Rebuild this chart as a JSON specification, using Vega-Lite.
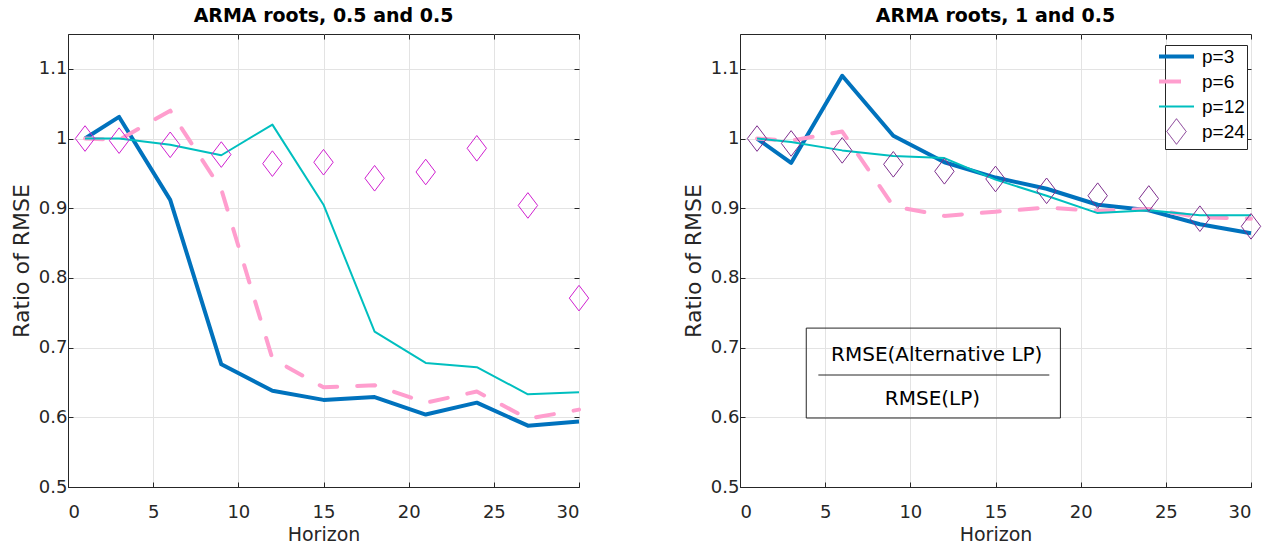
{
  "$schema": "https://vega.github.io/schema/vega-lite/v6.json",
  "background": "white",
  "padding": {"left": 9, "top": 6, "right": 5, "bottom": 2},
  "bounds": "flush",
  "spacing": 161,
  "config": {
    "font": "DejaVu Sans",
    "view": {"stroke": "#262626", "strokeWidth": 1},
    "axis": {
      "gridColor": "#E3E3E3", "gridWidth": 1, "domainColor": "#262626", "tickColor": "#262626",
      "labelColor": "#262626", "titleColor": "#262626", "labelFontSize": 18, "titleFontSize": 19,
      "titleFontWeight": "normal", "labelFont": "DejaVu Sans", "titleFont": "DejaVu Sans",
      "tickSize": -5
    },
    "axisX": {"labelPadding": 21, "titlePadding": 4},
    "axisY": {"labelPadding": 6, "titlePadding": 5, "titleFontSize": 22},
    "title": {"fontSize": 19, "font": "DejaVu Sans", "fontWeight": "bold", "color": "#000000", "offset": 8}
  },
  "datasets": {
    "rmse": [
      {"panel": "A", "series": "p=3", "horizon": 1, "ratio": 1.000},
      {"panel": "A", "series": "p=3", "horizon": 3, "ratio": 1.031},
      {"panel": "A", "series": "p=3", "horizon": 6, "ratio": 0.912},
      {"panel": "A", "series": "p=3", "horizon": 9, "ratio": 0.676},
      {"panel": "A", "series": "p=3", "horizon": 12, "ratio": 0.638},
      {"panel": "A", "series": "p=3", "horizon": 15, "ratio": 0.625},
      {"panel": "A", "series": "p=3", "horizon": 18, "ratio": 0.629},
      {"panel": "A", "series": "p=3", "horizon": 21, "ratio": 0.604},
      {"panel": "A", "series": "p=3", "horizon": 24, "ratio": 0.621},
      {"panel": "A", "series": "p=3", "horizon": 27, "ratio": 0.588},
      {"panel": "A", "series": "p=3", "horizon": 30, "ratio": 0.594},
      {"panel": "A", "series": "p=6", "horizon": 1, "ratio": 1.000},
      {"panel": "A", "series": "p=6", "horizon": 3, "ratio": 0.998},
      {"panel": "A", "series": "p=6", "horizon": 6, "ratio": 1.040},
      {"panel": "A", "series": "p=6", "horizon": 9, "ratio": 0.927},
      {"panel": "A", "series": "p=6", "horizon": 12, "ratio": 0.684},
      {"panel": "A", "series": "p=6", "horizon": 15, "ratio": 0.643},
      {"panel": "A", "series": "p=6", "horizon": 18, "ratio": 0.646},
      {"panel": "A", "series": "p=6", "horizon": 21, "ratio": 0.621},
      {"panel": "A", "series": "p=6", "horizon": 24, "ratio": 0.637},
      {"panel": "A", "series": "p=6", "horizon": 27, "ratio": 0.598},
      {"panel": "A", "series": "p=6", "horizon": 30, "ratio": 0.611},
      {"panel": "A", "series": "p=12", "horizon": 1, "ratio": 1.000},
      {"panel": "A", "series": "p=12", "horizon": 3, "ratio": 1.000},
      {"panel": "A", "series": "p=12", "horizon": 6, "ratio": 0.991},
      {"panel": "A", "series": "p=12", "horizon": 9, "ratio": 0.976},
      {"panel": "A", "series": "p=12", "horizon": 12, "ratio": 1.020},
      {"panel": "A", "series": "p=12", "horizon": 15, "ratio": 0.905},
      {"panel": "A", "series": "p=12", "horizon": 18, "ratio": 0.723},
      {"panel": "A", "series": "p=12", "horizon": 21, "ratio": 0.678},
      {"panel": "A", "series": "p=12", "horizon": 24, "ratio": 0.672},
      {"panel": "A", "series": "p=12", "horizon": 27, "ratio": 0.633},
      {"panel": "A", "series": "p=12", "horizon": 30, "ratio": 0.636},
      {"panel": "A", "series": "p=24", "horizon": 1, "ratio": 1.000},
      {"panel": "A", "series": "p=24", "horizon": 3, "ratio": 0.997},
      {"panel": "A", "series": "p=24", "horizon": 6, "ratio": 0.991},
      {"panel": "A", "series": "p=24", "horizon": 9, "ratio": 0.977},
      {"panel": "A", "series": "p=24", "horizon": 12, "ratio": 0.964},
      {"panel": "A", "series": "p=24", "horizon": 15, "ratio": 0.966},
      {"panel": "A", "series": "p=24", "horizon": 18, "ratio": 0.943},
      {"panel": "A", "series": "p=24", "horizon": 21, "ratio": 0.952},
      {"panel": "A", "series": "p=24", "horizon": 24, "ratio": 0.986},
      {"panel": "A", "series": "p=24", "horizon": 27, "ratio": 0.904},
      {"panel": "A", "series": "p=24", "horizon": 30, "ratio": 0.771},
      {"panel": "B", "series": "p=3", "horizon": 1, "ratio": 1.000},
      {"panel": "B", "series": "p=3", "horizon": 3, "ratio": 0.965},
      {"panel": "B", "series": "p=3", "horizon": 6, "ratio": 1.090},
      {"panel": "B", "series": "p=3", "horizon": 9, "ratio": 1.004},
      {"panel": "B", "series": "p=3", "horizon": 12, "ratio": 0.966},
      {"panel": "B", "series": "p=3", "horizon": 15, "ratio": 0.944},
      {"panel": "B", "series": "p=3", "horizon": 18, "ratio": 0.928},
      {"panel": "B", "series": "p=3", "horizon": 21, "ratio": 0.905},
      {"panel": "B", "series": "p=3", "horizon": 24, "ratio": 0.897},
      {"panel": "B", "series": "p=3", "horizon": 27, "ratio": 0.877},
      {"panel": "B", "series": "p=3", "horizon": 30, "ratio": 0.864},
      {"panel": "B", "series": "p=6", "horizon": 1, "ratio": 1.000},
      {"panel": "B", "series": "p=6", "horizon": 3, "ratio": 0.997},
      {"panel": "B", "series": "p=6", "horizon": 6, "ratio": 1.010},
      {"panel": "B", "series": "p=6", "horizon": 9, "ratio": 0.903},
      {"panel": "B", "series": "p=6", "horizon": 12, "ratio": 0.889},
      {"panel": "B", "series": "p=6", "horizon": 15, "ratio": 0.895},
      {"panel": "B", "series": "p=6", "horizon": 18, "ratio": 0.901},
      {"panel": "B", "series": "p=6", "horizon": 21, "ratio": 0.896},
      {"panel": "B", "series": "p=6", "horizon": 24, "ratio": 0.899},
      {"panel": "B", "series": "p=6", "horizon": 27, "ratio": 0.887},
      {"panel": "B", "series": "p=6", "horizon": 30, "ratio": 0.885},
      {"panel": "B", "series": "p=12", "horizon": 1, "ratio": 1.000},
      {"panel": "B", "series": "p=12", "horizon": 3, "ratio": 0.995},
      {"panel": "B", "series": "p=12", "horizon": 6, "ratio": 0.983},
      {"panel": "B", "series": "p=12", "horizon": 9, "ratio": 0.975},
      {"panel": "B", "series": "p=12", "horizon": 12, "ratio": 0.972},
      {"panel": "B", "series": "p=12", "horizon": 15, "ratio": 0.941},
      {"panel": "B", "series": "p=12", "horizon": 18, "ratio": 0.918},
      {"panel": "B", "series": "p=12", "horizon": 21, "ratio": 0.893},
      {"panel": "B", "series": "p=12", "horizon": 24, "ratio": 0.897},
      {"panel": "B", "series": "p=12", "horizon": 27, "ratio": 0.890},
      {"panel": "B", "series": "p=12", "horizon": 30, "ratio": 0.890},
      {"panel": "B", "series": "p=24", "horizon": 1, "ratio": 1.000},
      {"panel": "B", "series": "p=24", "horizon": 3, "ratio": 0.993},
      {"panel": "B", "series": "p=24", "horizon": 6, "ratio": 0.983},
      {"panel": "B", "series": "p=24", "horizon": 9, "ratio": 0.963},
      {"panel": "B", "series": "p=24", "horizon": 12, "ratio": 0.953},
      {"panel": "B", "series": "p=24", "horizon": 15, "ratio": 0.942},
      {"panel": "B", "series": "p=24", "horizon": 18, "ratio": 0.925},
      {"panel": "B", "series": "p=24", "horizon": 21, "ratio": 0.918},
      {"panel": "B", "series": "p=24", "horizon": 24, "ratio": 0.914},
      {"panel": "B", "series": "p=24", "horizon": 27, "ratio": 0.885},
      {"panel": "B", "series": "p=24", "horizon": 30, "ratio": 0.874}
    ],
    "box": [
      {"x": 3.89, "x2": 18.81, "y": 0.599, "y2": 0.728}
    ],
    "fracline": [
      {"x": 4.6, "x2": 18.16, "y": 0.6607}
    ],
    "notes": [
      {"x": 11.55, "y": 0.690, "label": "RMSE(Alternative LP)"},
      {"x": 11.3, "y": 0.626, "label": "RMSE(LP)"}
    ]
  },
  "resolve": {"scale": {"color": "independent"}},
  "hconcat": [
    {
      "width": 511,
      "height": 453,
      "title": {"text": "ARMA roots, 0.5 and 0.5"},
      "data": {"name": "rmse"},
      "transform": [{"filter": "datum.panel === 'A'"}],
      "resolve": {"axis": {"x": "independent", "y": "independent"}},
      "layer": [
        {
          "transform": [{"filter": "datum.series === 'p=3'"}],
          "mark": {"type": "line", "strokeWidth": 4, "strokeJoin": "round"},
          "encoding": {
            "x": {"field": "horizon", "type": "quantitative", "scale": {"domain": [0, 30], "nice": false}, "axis": {"title": "Horizon", "values": [0, 5, 10, 15, 20, 25, 30], "grid": true}},
            "y": {"field": "ratio", "type": "quantitative", "scale": {"domain": [0.5, 1.15], "nice": false, "zero": false}, "axis": {"title": "Ratio of RMSE", "values": [0.5, 0.6, 0.7, 0.8, 0.9, 1, 1.1], "format": "~g", "grid": true}},
            "color": {"field": "series", "type": "nominal", "scale": {"domain": ["p=3", "p=6", "p=12", "p=24"], "range": ["#0072BD", "#FF9ECE", "#00BFBF", "#D020D0"]}, "legend": null}
          }
        },
        {
          "transform": [{"filter": "datum.series === 'p=6'"}],
          "mark": {"type": "line", "strokeWidth": 4, "strokeDash": [18, 20], "strokeCap": "round", "strokeJoin": "round"},
          "encoding": {
            "x": {"field": "horizon", "type": "quantitative", "axis": null},
            "y": {"field": "ratio", "type": "quantitative", "axis": null},
            "color": {"field": "series", "type": "nominal", "legend": null}
          }
        },
        {
          "transform": [{"filter": "datum.series === 'p=12'"}],
          "mark": {"type": "line", "strokeWidth": 2, "strokeJoin": "round"},
          "encoding": {
            "x": {"field": "horizon", "type": "quantitative", "axis": {"orient": "top", "values": [0, 5, 10, 15, 20, 25, 30], "labels": false, "title": null, "grid": false, "domain": false}},
            "y": {"field": "ratio", "type": "quantitative", "axis": {"orient": "right", "values": [0.5, 0.6, 0.7, 0.8, 0.9, 1, 1.1], "labels": false, "title": null, "grid": false, "domain": false}},
            "color": {"field": "series", "type": "nominal", "legend": null}
          }
        },
        {
          "transform": [{"filter": "datum.series === 'p=24'"}],
          "mark": {"type": "point", "shape": "M0,-1.28L0.97,0L0,1.28L-0.97,0Z", "size": 400, "filled": false, "strokeWidth": 1, "opacity": 1},
          "encoding": {
            "x": {"field": "horizon", "type": "quantitative", "axis": null},
            "y": {"field": "ratio", "type": "quantitative", "axis": null},
            "color": {"field": "series", "type": "nominal", "legend": null}
          }
        }
      ]
    },
    {
      "width": 511,
      "height": 453,
      "title": {"text": "ARMA roots, 1 and 0.5"},
      "resolve": {"axis": {"x": "independent", "y": "independent"}},
      "layer": [
        {
          "data": {"name": "box"},
          "mark": {"type": "rect", "fill": "transparent", "stroke": "#262626", "strokeWidth": 1},
          "encoding": {
            "x": {"field": "x", "type": "quantitative", "scale": {"domain": [0, 30], "nice": false}, "axis": {"title": "Horizon", "values": [0, 5, 10, 15, 20, 25, 30], "grid": true}},
            "x2": {"field": "x2"},
            "y": {"field": "y", "type": "quantitative", "scale": {"domain": [0.5, 1.15], "nice": false, "zero": false}, "axis": {"title": "Ratio of RMSE", "values": [0.5, 0.6, 0.7, 0.8, 0.9, 1, 1.1], "format": "~g", "grid": true}},
            "y2": {"field": "y2"}
          }
        },
        {
          "data": {"name": "fracline"},
          "mark": {"type": "rule", "stroke": "#262626", "strokeWidth": 1},
          "encoding": {
            "x": {"field": "x", "type": "quantitative", "axis": {"orient": "top", "values": [0, 5, 10, 15, 20, 25, 30], "labels": false, "title": null, "grid": false, "domain": false}},
            "x2": {"field": "x2"},
            "y": {"field": "y", "type": "quantitative", "axis": {"orient": "right", "values": [0.5, 0.6, 0.7, 0.8, 0.9, 1, 1.1], "labels": false, "title": null, "grid": false, "domain": false}}
          }
        },
        {
          "data": {"name": "notes"},
          "mark": {"type": "text", "fontSize": 20, "font": "DejaVu Sans", "color": "#000000", "baseline": "middle", "align": "center"},
          "encoding": {
            "x": {"field": "x", "type": "quantitative", "axis": null},
            "y": {"field": "y", "type": "quantitative", "axis": null},
            "text": {"field": "label"}
          }
        },
        {
          "data": {"name": "rmse"},
          "transform": [{"filter": "datum.panel === 'B'"}],
          "encoding": {
            "x": {"field": "horizon", "type": "quantitative", "axis": null},
            "y": {"field": "ratio", "type": "quantitative", "axis": null},
            "color": {
              "field": "series", "type": "nominal",
              "scale": {"domain": ["p=3", "p=6", "p=12", "p=24"], "range": ["#0072BD", "#FF9ECE", "#00BFBF", "#7E2F8E"]},
              "legend": {
                "title": null, "orient": "none", "legendX": 425, "legendY": 11,
                "padding": 2, "strokeColor": "#262626", "fillColor": "white",
                "labelFontSize": 19, "labelFont": "Liberation Sans", "labelColor": "#000000",
                "symbolSize": 1225, "rowPadding": -6, "labelOffset": 16, "gridAlign": "all",
                "encode": {
                  "symbols": {
                    "update": {
                      "shape": {"signal": "datum.value === 'p=24' ? 'M0,-1.28L0.97,0L0,1.28L-0.97,0Z' : 'stroke'"},
                      "size": {"signal": "datum.value === 'p=24' ? 400 : 1225"},
                      "strokeWidth": {"signal": "datum.value === 'p=12' ? 2 : datum.value === 'p=24' ? 1 : 4"},
                      "strokeDash": {"signal": "datum.value === 'p=6' ? [22, 30] : [1, 0]"},
                      "fill": {"value": "transparent"},
                      "opacity": {"value": 1}
                    }
                  }
                }
              }
            }
          },
          "layer": [
            {
              "transform": [{"filter": "datum.series === 'p=3'"}],
              "mark": {"type": "line", "strokeWidth": 4, "strokeJoin": "round"}
            },
            {
              "transform": [{"filter": "datum.series === 'p=6'"}],
              "mark": {"type": "line", "strokeWidth": 4, "strokeDash": [18, 20], "strokeCap": "round", "strokeJoin": "round"}
            },
            {
              "transform": [{"filter": "datum.series === 'p=12'"}],
              "mark": {"type": "line", "strokeWidth": 2, "strokeJoin": "round"}
            },
            {
              "transform": [{"filter": "datum.series === 'p=24'"}],
              "mark": {"type": "point", "shape": "M0,-1.28L0.97,0L0,1.28L-0.97,0Z", "size": 400, "filled": false, "strokeWidth": 1, "opacity": 1}
            }
          ]
        }
      ]
    }
  ]
}
